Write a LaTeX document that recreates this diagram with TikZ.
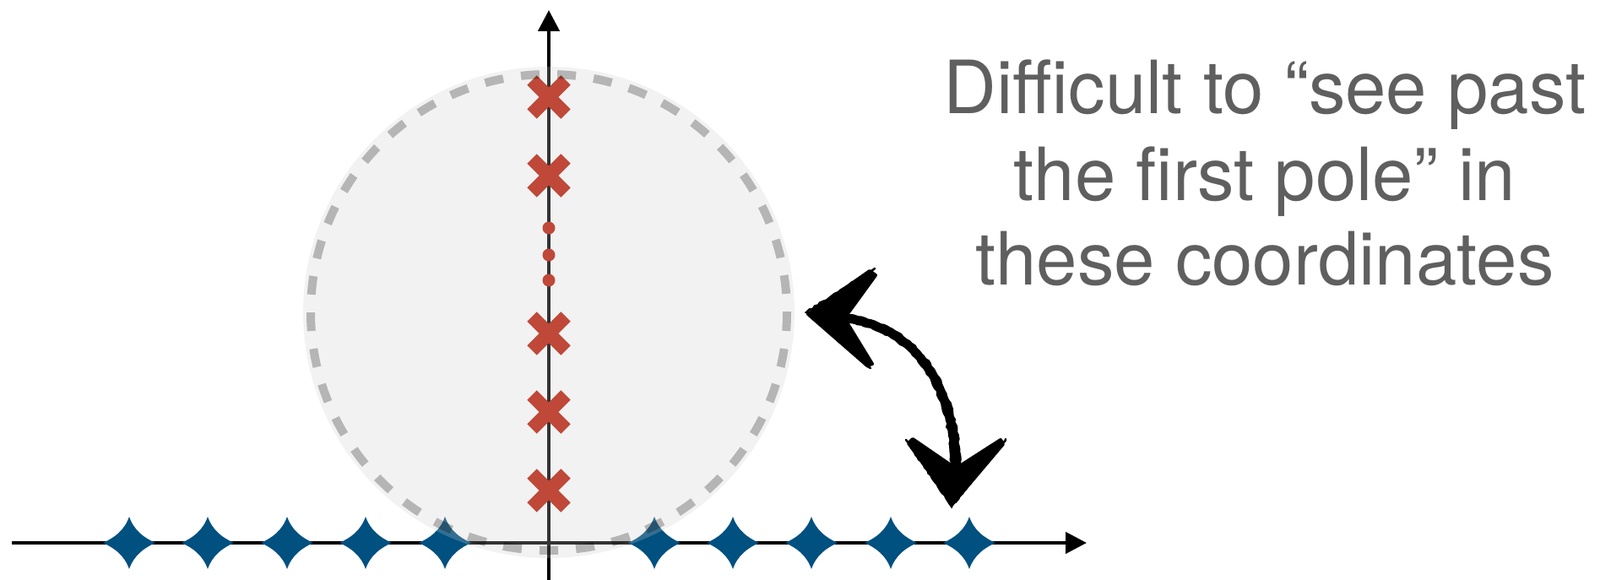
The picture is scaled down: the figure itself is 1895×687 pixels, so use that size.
\documentclass[tikz,border=0pt]{standalone}
\usepackage{fontspec}
\setmainfont{TeX Gyre Heros}
\usetikzlibrary{arrows.meta,decorations.pathmorphing}
\definecolor{polered}{RGB}{191,72,57}
\definecolor{starblue}{RGB}{0,80,128}
\definecolor{txtgray}{RGB}{95,95,95}
\definecolor{ringgray}{RGB}{204,204,204}
\newcommand{\sparkpath}{(0,-31) .. controls (6,-14) and (18,-6) .. (31,0)
    .. controls (18,6) and (6,14) .. (0,31)
    .. controls (-6,14) and (-18,6) .. (-31,0)
    .. controls (-18,-6) and (-6,-14) .. cycle}
\begin{document}
\begin{tikzpicture}[x=1pt,y=-1pt,
  axisline/.style={line width=4.5pt, -{Triangle[length=25pt,width=25pt]}},
  polex/.style={draw=polered, line width=16pt},
  poledot/.style={fill=polered},
  starfill/.style={fill=starblue, draw=none},
  discfill/.style={fill=ringgray, fill opacity=0.25},
  discedge/.style={draw=black, draw opacity=0.25, line width=10pt, dash pattern=on 22pt off 21.2pt},
  captext/.style={text=txtgray, font=\fontsize{87}{101}\selectfont, anchor=base, inner sep=0pt},
  shaft/.style={line width=10pt, line cap=round, line join=round},
  headfill/.style={fill=black, draw=black, line width=4pt, line join=round},
  rough/.style={line width=2.5pt, line cap=round, decorate, decoration={random steps, segment length=4pt, amplitude=1pt}},
]
\useasboundingbox (0,0) rectangle (1895,687);
% axes
\coordinate (xstart) at (14,643);
\coordinate (xend) at (1287,643);
\coordinate (ybot) at (650,687);
\coordinate (ytop) at (650,12);
\draw[axisline] (xstart) -- (xend);
\draw[axisline] (ybot) -- (ytop);
% stars on real axis
\path[starfill, shift={(153,643)}] \sparkpath;
\path[starfill, shift={(246,643)}] \sparkpath;
\path[starfill, shift={(340,643)}] \sparkpath;
\path[starfill, shift={(433,643)}] \sparkpath;
\path[starfill, shift={(527,643)}] \sparkpath;
\path[starfill, shift={(775,643)}] \sparkpath;
\path[starfill, shift={(868,643)}] \sparkpath;
\path[starfill, shift={(961,643)}] \sparkpath;
\path[starfill, shift={(1055,643)}] \sparkpath;
\path[starfill, shift={(1148,643)}] \sparkpath;
% disc
\coordinate (disc) at (650,370);
\fill[discfill] (disc) circle[radius=291];
% poles
\foreach \cy in {115,208,395,488,581} {
  \draw[polex] (630,\cy-20) -- (670,\cy+20);
  \draw[polex] (630,\cy+20) -- (670,\cy-20);
}
\foreach \dy in {270,302,332} {
  \fill[poledot] (650,\dy) circle[radius=7.5];
}
\draw[discedge] (disc) circle[radius=282];
% sketchy double arrow
\coordinate (aL) at (957,372);
\coordinate (aR) at (1128,597);
\coordinate (nL) at (1000,377);
\coordinate (nR) at (1132,555);
\draw[shaft] (nL) .. controls (1075,385) and (1130,445) .. (nR);
\draw[rough] (nL) ++(0,-4) .. controls (1077,381) and (1135,443) .. (1137,555);
\draw[rough] (nL) ++(0,4) .. controls (1071,389) and (1126,447) .. (1127,555);
\filldraw[headfill] (aL) -- (1030,321) -- (1037,326) -- (nL) -- (1033,431) -- (1027,433) -- cycle;
\filldraw[headfill] (aR) -- (1076,525) -- (1081,520) -- (nR) -- (1185,521) -- (1188,526) -- cycle;
\draw[rough] (1036,318) -- (955,370) -- (1031,436);
\draw[rough] (1073,521) -- (1127,600) -- (1191,520);
% text
\node[captext] (t1) at (1498,135) {Difficult to “see past};
\node[captext] (t2) at (1498,237) {the first pole” in};
\node[captext] (t3) at (1498,337) {these coordinates};
\end{tikzpicture}
\end{document}
